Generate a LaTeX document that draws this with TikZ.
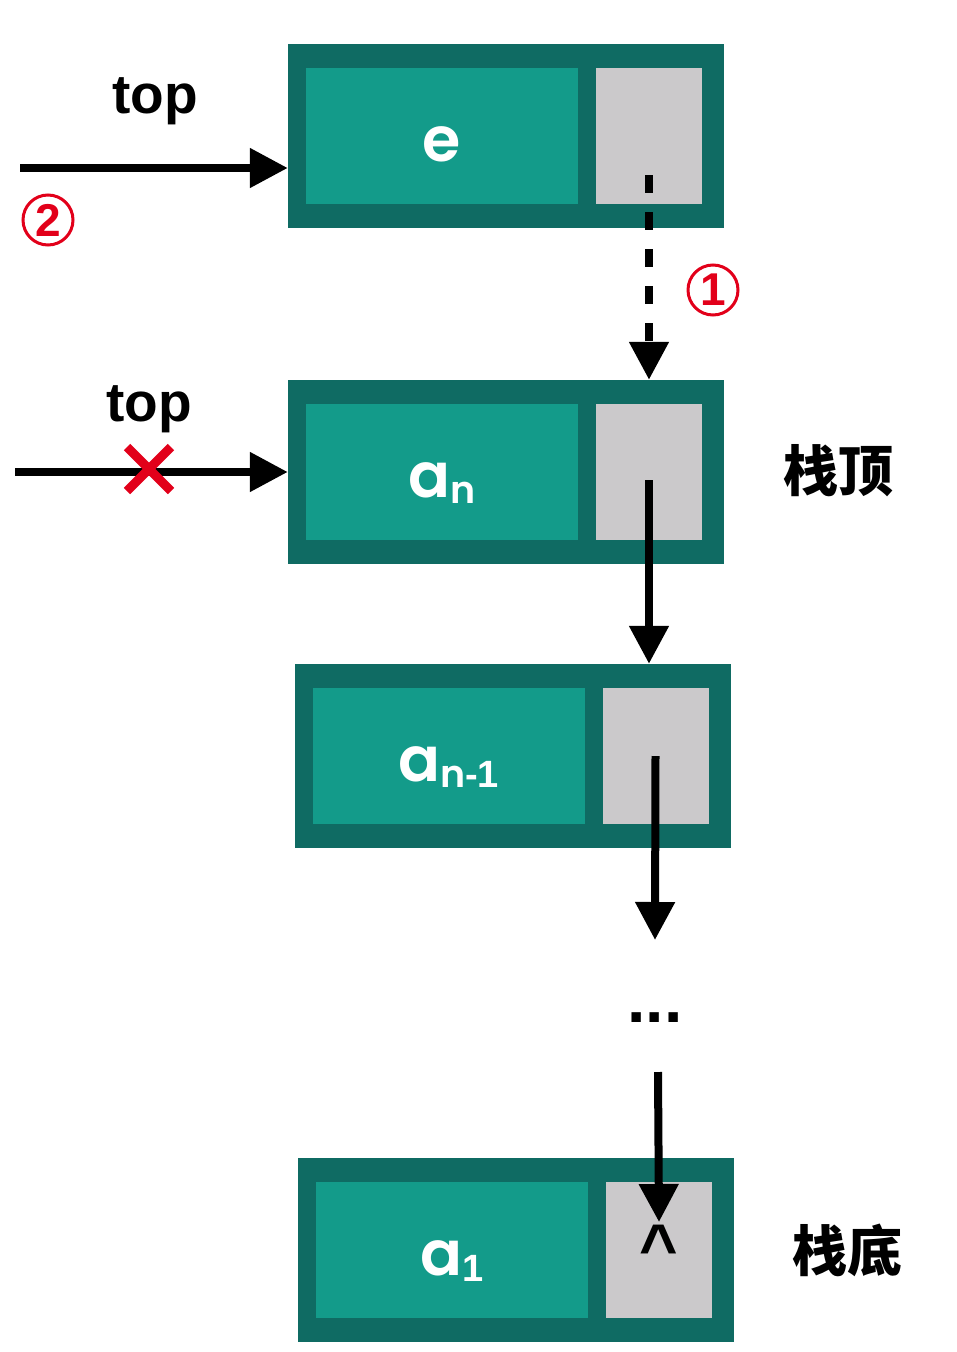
\documentclass[tikz,border=0pt]{standalone}
\usepackage{fontspec}
\setmainfont{Liberation Sans}
\newfontfamily\cellfont{Poppins SemiBold}
\newfontfamily\cjk{Noto Sans CJK SC}
\usetikzlibrary{positioning, arrows.meta}
\definecolor{frameteal}{HTML}{0F6B63}
\definecolor{datateal}{HTML}{139B8A}
\definecolor{ptrgray}{HTML}{CBC9CB}
\definecolor{markred}{HTML}{E2001A}
\newcommand\lowsub[1]{\raisebox{-6pt}{\fontsize{38}{38}\selectfont #1}}
\newcommand\digits[1]{{\rmfamily\bfseries #1}}
\tikzset{
	cellframe/.style={fill=frameteal, minimum width=436pt, minimum height=184pt, inner sep=0pt},
	datafield/.style={fill=datateal, minimum width=272pt, minimum height=136pt, inner sep=0pt},
	ptrfield/.style={fill=ptrgray, minimum width=106pt, minimum height=136pt, inner sep=0pt},
	celltext/.style={text=white, inner sep=0pt, font=\cellfont\fontsize{62}{62}\selectfont}
}
\tikzset{
	toplabel/.style={font=\bfseries\fontsize{55}{55}\selectfont},
	cjklabel/.style={font=\cjk\bfseries\fontsize{55}{55}\selectfont},
	stepmark/.style={circle, draw=markred, text=markred, line width=3pt, minimum size=50pt,
		inner sep=0pt, font=\bfseries\fontsize{46}{46}\selectfont},
	link/.style={-{Triangle[length=38pt, width=38pt]}, line width=8pt},
	crossline/.style={draw=markred, line width=9pt}
}

\begin{document}
\begin{tikzpicture}[x=1pt, y=-1pt]
      \useasboundingbox (0,0) rectangle (956,1352);
      % stack cells
      \foreach \nm/\cx/\cy/\lbl in {E/506/136/e, An/506/472/{a\lowsub{n}},
          An1/512.5/756/{a\lowsub{n\digits{-1}}}, A1/516/1250/{a\lowsub{\digits{1}}}} {
        \node[cellframe] (box\nm) at (\cx,\cy) {};
        \node[datafield, right=18pt of box\nm.west] (data\nm) {};
        \node[ptrfield, left=22pt of box\nm.east] (ptr\nm) {};
        \node[celltext, anchor=base] (lbl\nm) at ([yshift=-25pt]data\nm.center) {\lbl};
      }
      % top pointers
      \node[toplabel] (topNew) at (155,101) {top};
      \node[toplabel] (topOld) at (149,409) {top};
      \coordinate (newTail) at (20,168);
      \draw[link] (newTail) -- (newTail -| boxE.west);
      \coordinate (oldTail) at (15,472);
      \draw[link] (oldTail) -- (boxAn.west);
      % red cross on old top
      \coordinate (cross) at (149,469);
      \draw[crossline] ([shift={(-22,-22)}]cross) -- ([shift={(22,22)}]cross);
      \draw[crossline] ([shift={(22,-22)}]cross) -- ([shift={(-22,22)}]cross);
      % step marks
      \node[stepmark] (markOne) at (713,290) {1};
      \node[stepmark] (markTwo) at (48,220) {2};
      % next links
      \draw[link, dash pattern=on 18pt off 19pt] ([yshift=-39pt]ptrE.center) -- (ptrE.center |- boxAn.north);
      \draw[link] ([yshift=-8pt]ptrAn.center) -- (ptrAn.center |- boxAn1.north);
      \coordinate (gapIn) at (655,940);
      \draw[link] (ptrAn1.center) -- (gapIn);
      \node[toplabel, anchor=base, inner sep=0pt, font=\bfseries\fontsize{66}{66}\selectfont] (gap) at (655,1022) {...};
      \coordinate (gapOut) at (658,1072);
      \draw[link] (gapOut) -- ([yshift=28pt]ptrA1.center);
      \node[anchor=base, inner sep=0pt, font=\bfseries\fontsize{66}{66}\selectfont] (nullA1) at ([yshift=-20pt]ptrA1.center) {\textasciicircum};
      % side labels
      \node[cjklabel] (topSide) at (838,471) {栈顶};
      \node[cjklabel] (bottomSide) at (847,1250) {栈底};
    \end{tikzpicture}
\end{document}
